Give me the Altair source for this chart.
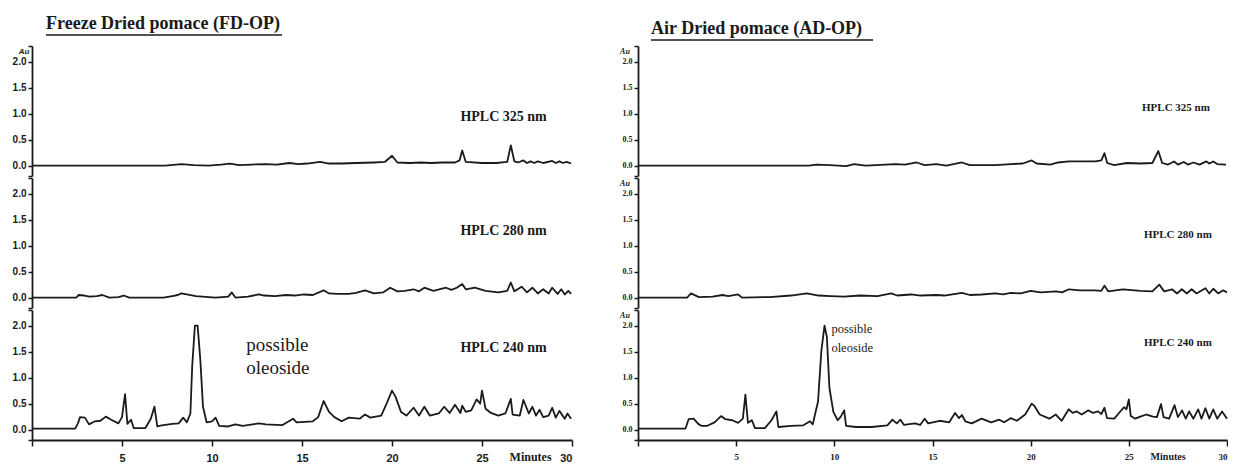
import altair as alt
import pandas as pd

# ---------------- data (time in minutes, absorbance in Au) ----------------
FD_325 = [(0, 0.0), (7.4, 0.0), (8.3, 0.03), (9.0, 0.01), (9.8, 0.0), (10.5, 0.02), (11.0, 0.04),
          (11.5, 0.01), (12.2, 0.02), (13.0, 0.03), (13.6, 0.02), (14.3, 0.05), (14.8, 0.03),
          (15.3, 0.04), (16.0, 0.07), (16.5, 0.04), (17.2, 0.04), (18.0, 0.05), (19.0, 0.06),
          (19.6, 0.07), (20.0, 0.19), (20.3, 0.06), (21.0, 0.05), (21.6, 0.06), (22.2, 0.05),
          (22.8, 0.06), (23.5, 0.06), (23.75, 0.1), (23.9, 0.29), (24.1, 0.07), (25.0, 0.05),
          (25.8, 0.05), (26.4, 0.07), (26.6, 0.39), (26.8, 0.08), (27.0, 0.06), (27.3, 0.1),
          (27.5, 0.05), (27.7, 0.08), (27.9, 0.05), (28.1, 0.08), (28.4, 0.05), (28.9, 0.09),
          (29.1, 0.05), (29.3, 0.08), (29.5, 0.05), (29.7, 0.07), (29.95, 0.04)]

FD_280 = [(0, 0.0), (2.45, 0.0), (2.6, 0.05), (2.9, 0.04), (3.2, 0.02), (3.6, 0.03), (3.9, 0.05),
          (4.3, 0.0), (4.8, 0.01), (5.1, 0.04), (5.4, 0.0), (7.3, 0.0), (7.8, 0.03), (8.1, 0.05),
          (8.3, 0.08), (8.6, 0.06), (9.1, 0.03), (10.2, 0.0), (10.9, 0.02), (11.1, 0.10), (11.3, 0.0),
          (12.0, 0.02), (12.6, 0.06), (12.9, 0.04), (13.5, 0.03), (14.1, 0.05), (14.6, 0.04),
          (15.1, 0.06), (15.6, 0.05), (16.2, 0.14), (16.5, 0.08), (17.0, 0.07), (17.6, 0.07),
          (18.0, 0.09), (18.5, 0.14), (19.0, 0.08), (19.5, 0.1), (19.9, 0.19), (20.3, 0.12),
          (20.7, 0.13), (21.2, 0.16), (21.5, 0.12), (21.8, 0.19), (22.3, 0.13), (23.0, 0.19),
          (23.3, 0.15), (23.6, 0.19), (23.9, 0.26), (24.1, 0.16), (24.6, 0.19), (25.2, 0.13),
          (25.9, 0.10), (26.4, 0.13), (26.6, 0.29), (26.8, 0.12), (27.2, 0.21), (27.5, 0.10),
          (27.8, 0.19), (28.1, 0.08), (28.4, 0.16), (28.7, 0.08), (28.9, 0.19), (29.2, 0.07),
          (29.4, 0.16), (29.6, 0.06), (29.8, 0.13), (29.95, 0.07)]

FD_240 = [(0, 0.02), (2.4, 0.02), (2.55, 0.12), (2.67, 0.24), (2.94, 0.23), (3.17, 0.10), (3.5, 0.16),
          (3.8, 0.17), (4.1, 0.25), (4.4, 0.19), (4.8, 0.12), (5.0, 0.24), (5.17, 0.68), (5.3, 0.11),
          (5.5, 0.19), (5.65, 0.03), (6.3, 0.03), (6.6, 0.21), (6.8, 0.44), (6.96, 0.06), (7.2, 0.08),
          (7.8, 0.11), (8.15, 0.12), (8.4, 0.23), (8.6, 0.14), (8.8, 0.31), (8.9, 1.22), (9.05, 2.0),
          (9.2, 2.0), (9.35, 1.35), (9.5, 0.44), (9.7, 0.14), (10.0, 0.16), (10.2, 0.23), (10.4, 0.07),
          (10.9, 0.06), (11.3, 0.10), (11.7, 0.07), (12.6, 0.12), (13.0, 0.10), (13.9, 0.085),
          (14.5, 0.21), (14.7, 0.14), (15.6, 0.16), (15.9, 0.24), (16.2, 0.55), (16.5, 0.34),
          (16.8, 0.24), (17.2, 0.16), (17.6, 0.23), (18.2, 0.21), (18.5, 0.29), (18.8, 0.23),
          (19.4, 0.27), (19.7, 0.50), (20.0, 0.75), (20.2, 0.63), (20.5, 0.34), (20.8, 0.27),
          (21.2, 0.42), (21.5, 0.27), (21.8, 0.44), (22.1, 0.27), (22.6, 0.31), (22.9, 0.44),
          (23.2, 0.32), (23.5, 0.48), (23.8, 0.32), (23.9, 0.46), (24.1, 0.34), (24.4, 0.37),
          (24.7, 0.58), (24.9, 0.50), (25.0, 0.75), (25.2, 0.40), (25.5, 0.32), (25.9, 0.27),
          (26.3, 0.31), (26.6, 0.59), (26.7, 0.29), (27.1, 0.27), (27.3, 0.57), (27.6, 0.31),
          (27.8, 0.44), (28.0, 0.27), (28.2, 0.38), (28.4, 0.24), (28.7, 0.27), (28.9, 0.42),
          (29.1, 0.23), (29.3, 0.36), (29.6, 0.21), (29.75, 0.31), (29.95, 0.21)]

AD_325 = [(0, 0.0), (8.7, 0.0), (9.1, 0.02), (9.8, 0.01), (10.6, -0.01), (11.0, 0.03), (11.6, 0.0),
          (12.6, 0.02), (13.1, 0.03), (13.6, 0.02), (14.2, 0.06), (14.6, 0.01), (15.2, 0.03),
          (15.7, 0.0), (16.5, 0.06), (16.9, 0.01), (18.2, 0.01), (19.0, 0.03), (19.6, 0.04),
          (20.05, 0.1), (20.3, 0.04), (21.0, 0.02), (21.4, 0.06), (21.95, 0.08), (22.6, 0.08),
          (23.3, 0.08), (23.6, 0.1), (23.76, 0.24), (23.9, 0.05), (24.25, 0.01), (24.9, 0.05),
          (25.6, 0.04), (26.2, 0.05), (26.5, 0.28), (26.7, 0.05), (27.0, 0.02), (27.3, 0.08),
          (27.5, 0.02), (27.8, 0.07), (28.0, 0.02), (28.3, 0.06), (28.6, 0.02), (28.95, 0.08),
          (29.1, 0.04), (29.3, 0.08), (29.5, 0.03), (29.95, 0.02)]

AD_280 = [(0, 0.0), (2.5, 0.0), (2.7, 0.08), (3.1, 0.01), (3.8, 0.02), (4.3, 0.05), (4.6, 0.03),
          (5.1, 0.06), (5.3, 0.0), (6.7, 0.01), (7.8, 0.04), (8.6, 0.08), (9.2, 0.04), (9.8, 0.03),
          (10.5, 0.02), (11.3, 0.04), (12.2, 0.03), (12.9, 0.08), (13.2, 0.04), (13.9, 0.06),
          (14.4, 0.04), (15.2, 0.05), (15.6, 0.04), (16.5, 0.09), (16.9, 0.05), (17.5, 0.06),
          (18.2, 0.08), (18.6, 0.06), (19.0, 0.09), (19.5, 0.08), (20.0, 0.13), (20.5, 0.1),
          (21.3, 0.12), (21.6, 0.1), (21.95, 0.16), (22.5, 0.14), (23.26, 0.14), (23.6, 0.13),
          (23.76, 0.23), (23.95, 0.12), (24.7, 0.16), (25.6, 0.13), (26.2, 0.12), (26.55, 0.25),
          (26.8, 0.12), (27.2, 0.16), (27.45, 0.08), (27.7, 0.16), (27.95, 0.08), (28.2, 0.16),
          (28.45, 0.08), (28.9, 0.18), (29.1, 0.08), (29.3, 0.17), (29.55, 0.08), (29.8, 0.14),
          (30.0, 0.1)]

AD_240 = [(0, 0.02), (2.42, 0.02), (2.58, 0.2), (2.83, 0.21), (3.07, 0.11), (3.24, 0.07), (3.5, 0.07),
          (3.9, 0.14), (4.23, 0.26), (4.45, 0.2), (4.8, 0.18), (5.1, 0.13), (5.34, 0.21), (5.47, 0.67),
          (5.6, 0.13), (5.8, 0.18), (5.96, 0.03), (6.46, 0.03), (6.8, 0.18), (7.05, 0.35), (7.15, 0.05),
          (7.8, 0.07), (8.4, 0.08), (8.76, 0.16), (8.9, 0.1), (9.17, 0.54), (9.34, 1.52), (9.5, 2.0),
          (9.62, 1.78), (9.75, 0.8), (9.95, 0.34), (10.17, 0.18), (10.33, 0.25), (10.5, 0.37),
          (10.6, 0.07), (11.1, 0.05), (11.9, 0.05), (12.7, 0.08), (12.96, 0.19), (13.18, 0.12),
          (13.37, 0.19), (13.55, 0.09), (14.1, 0.12), (14.37, 0.09), (14.6, 0.21), (14.78, 0.12),
          (15.36, 0.17), (15.85, 0.14), (16.15, 0.32), (16.35, 0.22), (16.5, 0.28), (16.67, 0.16),
          (17.0, 0.12), (17.5, 0.21), (17.99, 0.14), (18.4, 0.19), (18.65, 0.14), (18.98, 0.22),
          (19.3, 0.17), (19.72, 0.29), (20.05, 0.5), (20.2, 0.45), (20.46, 0.29), (20.95, 0.21),
          (21.28, 0.29), (21.58, 0.17), (21.94, 0.39), (22.14, 0.32), (22.35, 0.35), (22.6, 0.29),
          (22.94, 0.37), (23.18, 0.32), (23.43, 0.35), (23.6, 0.3), (23.76, 0.42), (23.89, 0.22),
          (24.26, 0.21), (24.5, 0.32), (24.75, 0.43), (24.88, 0.39), (25.0, 0.58), (25.1, 0.26),
          (25.33, 0.21), (25.58, 0.25), (25.9, 0.29), (26.23, 0.25), (26.43, 0.24), (26.64, 0.49),
          (26.77, 0.24), (27.05, 0.21), (27.33, 0.47), (27.5, 0.24), (27.71, 0.37), (27.9, 0.21),
          (28.07, 0.35), (28.29, 0.21), (28.53, 0.39), (28.7, 0.21), (28.9, 0.41), (29.1, 0.21),
          (29.3, 0.39), (29.5, 0.21), (29.75, 0.35), (30.0, 0.21)]

X_TICKS = [0, 5, 10, 15, 20, 25, 30]
Y_TICKS = [-0.2, 0.0, 0.5, 1.0, 1.5, 2.0, 2.3]
WAVELENGTH_LABELS = ["HPLC 325 nm", "HPLC 280 nm", "HPLC 240 nm"]
TITLES = ["Freeze Dried pomace (FD-OP)", "Air Dried pomace (AD-OP)"]
PEAK_NOTE = ["possible", "oleoside"]

# ---------------- styling ----------------
INK = "#1a1a1a"
SERIF = "Liberation Serif, Times New Roman, serif"
NARROW = "Liberation Sans Narrow, Arial Narrow, Liberation Sans, sans-serif"
H = 130
YDOM = [-0.2, 2.3]

LEFT = dict(width=540, tick_font=NARROW, tick_size=10, xtick_size=11,
            hplc_size=14, hplc_pos=[(26.2, 0.94), (26.2, 1.29), (26.2, 1.57)],
            note_pos=(11.9, 1.62), note_size=19, note_lh=23,
            title_x=14, title_y=-22, title_w=236,
            minutes_t=27.7, minutes_size=12, au_panels=[0], au_x=-8, au_font=NARROW)
RIGHT = dict(width=589, tick_font=SERIF, tick_size=8, xtick_size=9,
             hplc_size=11, hplc_pos=[(27.4, 1.1), (27.5, 1.21), (27.5, 1.67)],
             note_pos=(9.85, 1.93), note_size=12.5, note_lh=19,
             title_x=13, title_y=-17, title_w=222,
             minutes_t=27.0, minutes_size=10, au_panels=[0, 1, 2], au_x=-13, au_font=SERIF)


def sub_panel(pairs, i, st, title):
    df = pd.DataFrame(pairs, columns=["t", "v"])
    bottom = i == 2
    if bottom:
        xaxis = alt.Axis(values=X_TICKS, labelExpr="datum.value == 0 ? '' : datum.label",
                         title=None, grid=False, domainColor=INK, domainWidth=1.8,
                         tickColor=INK, tickWidth=1.5, tickSize=6, labelPadding=6,
                         labelFont=st["tick_font"], labelFontSize=st["xtick_size"],
                         labelFontWeight="bold", labelColor=INK)
    else:
        xaxis = None
    yaxis = alt.Axis(values=Y_TICKS, format=".1f",
                     labelExpr="(datum.value < 0 || datum.value > 2.1) ? '' : datum.label",
                     title=None, grid=False, domainColor=INK, domainWidth=1.8, tickColor=INK,
                     tickWidth=1.5, tickSize=4, labelPadding=2, labelFont=st["tick_font"],
                     labelFontSize=st["tick_size"], labelFontWeight="bold", labelColor=INK)
    X = alt.X("t:Q", scale=alt.Scale(domain=[0, 30], nice=False, zero=False), axis=xaxis)
    Y = alt.Y("v:Q", scale=alt.Scale(domain=YDOM, nice=False, zero=False), axis=yaxis)

    line = alt.Chart(df).mark_line(color=INK, strokeWidth=1.8, strokeJoin="round").encode(x=X, y=Y)

    hx, hy = st["hplc_pos"][i]
    hplc = alt.Chart(pd.DataFrame({"t": [hx], "v": [hy]})).mark_text(
        text=WAVELENGTH_LABELS[i], font=SERIF, fontWeight="bold", fontSize=st["hplc_size"],
        color=INK, align="center", baseline="middle").encode(x=X, y=Y)
    layers = [line, hplc]

    if i in st["au_panels"]:
        layers.append(alt.Chart(pd.DataFrame({"k": [0]})).mark_text(
            text="Au", font=st["au_font"], fontStyle="italic", fontWeight="bold", fontSize=8,
            color=INK, align="center", baseline="middle").encode(
            x=alt.value(st["au_x"]), y=alt.value(6)))
    if i == 0:
        layers.append(alt.Chart(pd.DataFrame({"k": [0]})).mark_text(
            text=title, font=SERIF, fontWeight="bold", fontSize=18, color=INK, align="left",
            baseline="middle").encode(x=alt.value(st["title_x"]), y=alt.value(st["title_y"])))
        layers.append(alt.Chart(pd.DataFrame({"k": [0]})).mark_rule(color=INK, strokeWidth=1.4).encode(
            x=alt.value(st["title_x"]), x2=alt.value(st["title_x"] + st["title_w"]),
            y=alt.value(st["title_y"] + 11)))
        # invisible guide so both panels reserve the same headroom
        layers.append(alt.Chart(pd.DataFrame({"k": [0]})).mark_rule(color="white", strokeOpacity=0,
                                                                     strokeWidth=1).encode(
            x=alt.value(0), x2=alt.value(2), y=alt.value(-36)))
    if bottom:
        nx, ny = st["note_pos"]
        layers.append(alt.Chart(pd.DataFrame({"t": [nx], "v": [ny]})).mark_text(
            text=PEAK_NOTE, font=SERIF, fontSize=st["note_size"], lineHeight=st["note_lh"],
            color=INK, align="left", baseline="middle").encode(x=X, y=Y))
        layers.append(alt.Chart(pd.DataFrame({"t": [st["minutes_t"]]})).mark_text(
            text="Minutes", font=SERIF, fontWeight="bold", fontSize=st["minutes_size"], color=INK,
            align="center", baseline="middle").encode(x=X, y=alt.value(H + 17)))
    return alt.layer(*layers).properties(width=st["width"], height=H)


def panel(traces, st, title):
    return alt.vconcat(*[sub_panel(p, i, st, title) for i, p in enumerate(traces)], spacing=0)


left = panel([FD_325, FD_280, FD_240], LEFT, TITLES[0])
right = panel([AD_325, AD_280, AD_240], RIGHT, TITLES[1])

chart = alt.hconcat(left, right, spacing=47).configure_view(stroke=None).properties(
    padding={"left": 4, "top": 2, "right": 0, "bottom": 0}, background="white")

chart.save("out.html", embed_options={"renderer": "svg", "actions": False})
